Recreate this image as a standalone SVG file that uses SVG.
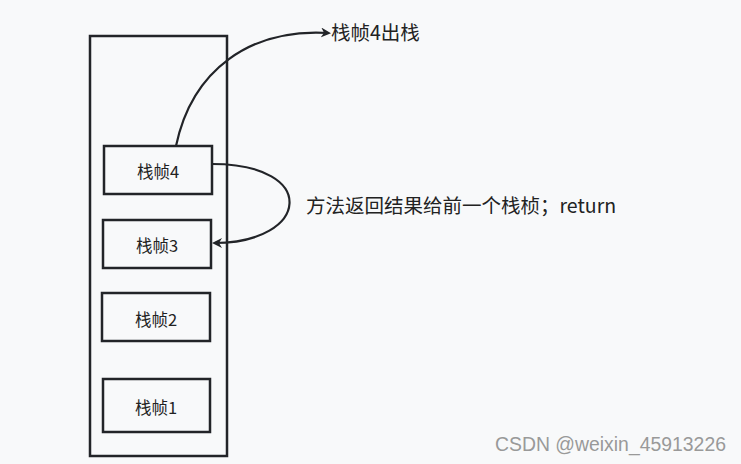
<svg xmlns="http://www.w3.org/2000/svg" width="741" height="464" viewBox="0 0 741 464">
<style>
.box{fill:none;stroke:#222428;stroke-width:2.5}
.lbl{font-family:"Noto Sans CJK SC","Noto Sans",sans-serif;font-size:16.5px;fill:#222;text-anchor:middle;dominant-baseline:central}
.t{font-family:"Noto Sans CJK SC","Noto Sans",sans-serif;font-size:19.5px;fill:#222}
.edge{fill:none;stroke:#222428;stroke-width:2.2}
</style>
<defs>
<marker id="ah" markerWidth="10" markerHeight="10" refX="8" refY="5" orient="auto" markerUnits="userSpaceOnUse">
<path d="M0,0 L10,5 L0,10 L3,5 Z" fill="#222428"/>
</marker>
</defs>
<rect width="741" height="464" fill="#f8f9fa"/>
<g id="stack"><rect class="box" x="90" y="36" width="137" height="420"/></g>
<g id="frame4"><rect class="box" x="104" y="146" width="108" height="48"/><text class="lbl" x="158" y="171">栈帧4</text></g>
<g id="frame3"><rect class="box" x="103" y="220" width="108" height="48"/><text class="lbl" x="157" y="245">栈帧3</text></g>
<g id="frame2"><rect class="box" x="102" y="293" width="108" height="48"/><text class="lbl" x="156" y="319">栈帧2</text></g>
<g id="frame1"><rect class="box" x="103" y="379" width="107" height="53"/><text class="lbl" x="156" y="407">栈帧1</text></g>
<g id="connectors">
<path class="edge" d="M176,146 C192,70 250,28 329,33" marker-end="url(#ah)"/>
<path class="edge" d="M212,164 C320,164 310,243 214,243" marker-end="url(#ah)"/>
</g>
<g id="labels">
<text class="t" x="331" y="40">栈帧4出栈</text>
<text class="t" x="306" y="213">方法返回结果给前一个栈桢；return</text>
</g>
<text x="495" y="451" style="font-family:'Liberation Sans',sans-serif;font-size:19.4px;fill:#999">CSDN @weixin_45913226</text>
</svg>
